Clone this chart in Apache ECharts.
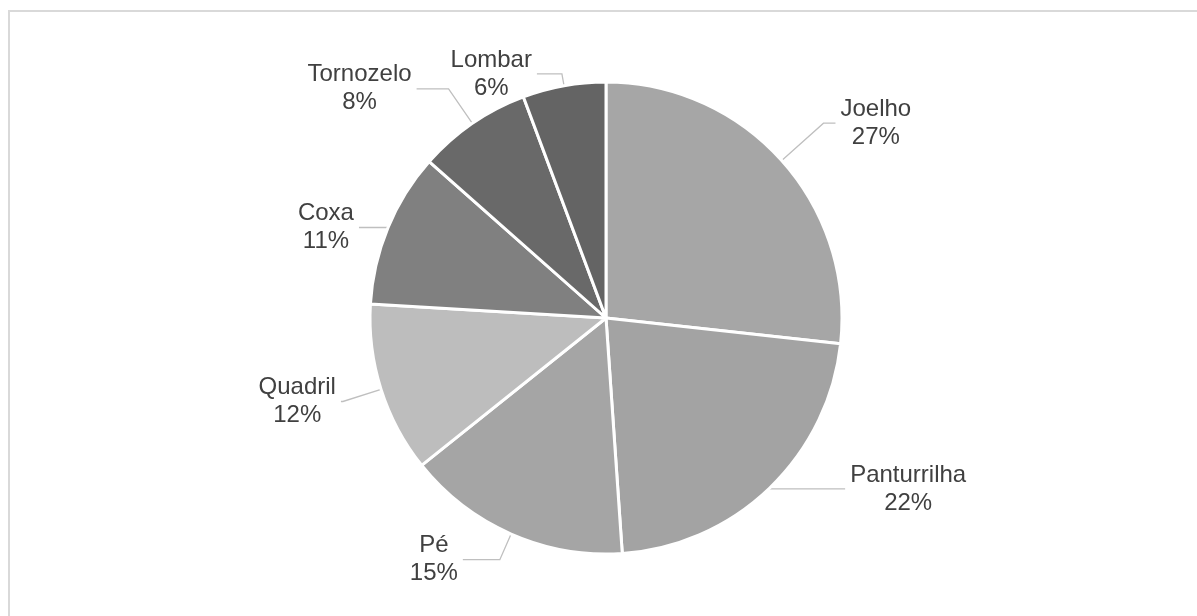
<!DOCTYPE html>
<html>
<head>
<meta charset="utf-8">
<script src="https://cdn.jsdelivr.net/npm/echarts@6/dist/echarts.min.js"></script>
<style>
  html, body { margin: 0; padding: 0; background: #fff; overflow: hidden; }
  #chart { position: absolute; left: 0; top: 0; width: 1197px; height: 616px; }
  .frame { position: absolute; left: 8px; top: 10px; width: 1300px; height: 700px; border: 2px solid #d9d9d9; box-sizing: border-box; }
</style>
</head>
<body>
<div class="frame"></div>
<div id="chart"></div>
<script>
// pie data, clockwise from 12 o'clock
const categories = ['Joelho', 'Panturrilha', 'Pé', 'Quadril', 'Coxa', 'Tornozelo', 'Lombar']
const values = [26.8, 22.2, 15.4, 11.7, 10.6, 7.8, 5.7]
const sliceColors = ['#a6a6a6', '#a3a3a3', '#a5a5a5', '#bdbdbd', '#808080', '#696969', '#646464']

// leader line lengths per label (radial part, horizontal part)
const lineLen = [56, 1, 28, 40, 1, 42, 12]
const lineLen2 = [12, 75, 37, 2, 28, 32, 25]

const total = values.reduce((a, b) => a + b, 0)

const chartDom = document.getElementById('chart')
const chart = echarts.init(chartDom, null, { renderer: 'canvas' })

const option = {
  animation: false,
  color: sliceColors,
  series: [
    {
      type: 'pie',
      center: [606, 318],
      radius: 236,
      startAngle: 90,
      clockwise: true,
      avoidLabelOverlap: false,
      itemStyle: {
        borderColor: '#ffffff',
        borderWidth: 3
      },
      label: {
        show: true,
        position: 'outside',
        alignTo: 'none',
        distanceToLabelLine: 5,
        formatter: (p) => '{n|' + p.name + '}\n{n|' + Math.round(p.value / total * 100) + '%}',
        rich: {
          n: {
            fontFamily: '"Liberation Sans", Arial, sans-serif',
            fontSize: 24,
            lineHeight: 28,
            color: '#404040',
            align: 'center'
          }
        }
      },
      labelLine: {
        show: true,
        lineStyle: {
          color: '#bfbfbf',
          width: 1.3
        }
      },
      data: categories.map((name, i) => ({
        name: name,
        value: values[i],
        labelLine: { length: lineLen[i], length2: lineLen2[i] }
      }))
    }
  ]
}

chart.setOption(option)
</script>
</body>
</html>
